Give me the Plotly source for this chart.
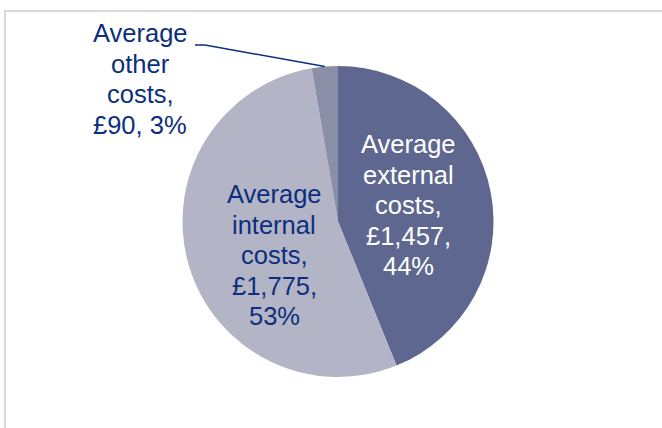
import math
import plotly.graph_objects as go

# Average cost breakdown
categories = ["Average external costs", "Average internal costs", "Average other costs"]
values = [1457, 1775, 90]
slice_colors = ["#5E678F", "#B3B5C6", "#8A8EA6"]
text_colors = ["#FFFFFF", "#0C2F7D", "#0C2F7D"]
# whether the value and percentage share one line in the label
joined_value_line = [False, False, True]

W, H = 662, 428
CX, CY, R = 338.0, 221.5, 155.5
FONT = "Liberation Sans, Arial, sans-serif"
FS = 25.5
LINE_H = 30.5

# label anchor (centre x, first baseline y) in pixels
label_anchor = [(408, 153), (274, 203), (140, 42)]


def px(x):
    return x / W


def py(y):
    return 1 - y / H


total = sum(values)
fig = go.Figure()
fig.add_trace(go.Pie(
    labels=categories,
    values=values,
    sort=False,
    direction="clockwise",
    rotation=0,
    marker=dict(colors=slice_colors, line=dict(width=0)),
    textinfo="none",
    hoverinfo="label+value+percent",
    showlegend=False,
    domain=dict(x=[px(CX - R), px(CX + R)], y=[py(CY + R), py(CY - R)]),
))

annotations = []
for i, (name, v) in enumerate(zip(categories, values)):
    pct = round(v / total * 100)
    words = name.split(" ")
    lines = words[:-1] + [words[-1] + ","]
    money = f"£{v:,},"
    if joined_value_line[i]:
        lines.append(f"{money} {pct}%")
    else:
        lines += [money, f"{pct}%"]
    ax, by = label_anchor[i]
    for k, line in enumerate(lines):
        baseline = by + k * LINE_H
        annotations.append(dict(
            x=px(ax), y=py(baseline - 0.35 * FS), xref="paper", yref="paper",
            text=line, showarrow=False, xanchor="center", yanchor="middle",
            font=dict(family=FONT, size=FS, color=text_colors[i]),
        ))

# leader line from the small slice to its label
start = 0.0
mids = []
for v in values:
    frac = v / total
    mids.append((start + frac / 2) * 2 * math.pi)
    start += frac
ang = mids[2]
ex, ey = CX + R * math.sin(ang), CY - R * math.cos(ang)

shapes = [
    dict(type="path", xref="paper", yref="paper",
         path=f"M {px(195)},{py(45)} L {px(205)},{py(45)} L {px(ex)},{py(ey)}",
         line=dict(color="#0C2F7D", width=1.5)),
    dict(type="rect", xref="paper", yref="paper",
         x0=px(5), y0=py(11), x1=1.2, y1=-0.2,
         line=dict(color="#D9D9D9", width=2), fillcolor="rgba(0,0,0,0)"),
]

fig.update_layout(
    width=W, height=H,
    margin=dict(l=0, r=0, t=0, b=0),
    paper_bgcolor="white",
    plot_bgcolor="white",
    annotations=annotations,
    shapes=shapes,
)

fig.write_html("out.html")
